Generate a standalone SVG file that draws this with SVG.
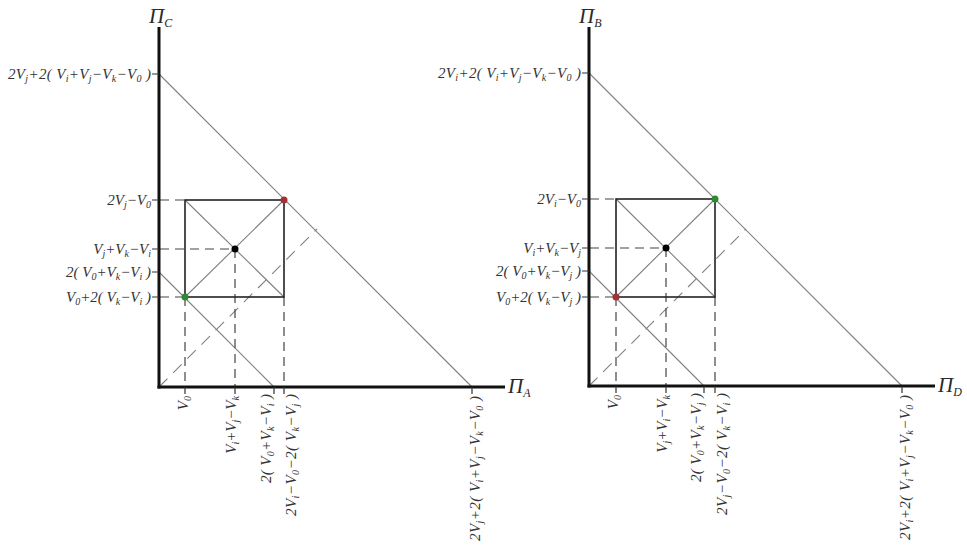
<svg xmlns="http://www.w3.org/2000/svg" width="967" height="550" viewBox="0 0 967 550">
<style>
.ax{stroke:#111;stroke-width:3;fill:none}
.dg{stroke:#808080;stroke-width:1.1;fill:none}
.sq{stroke:#222;stroke-width:1.6;fill:none}
.da{stroke:#444;stroke-width:1.2;stroke-dasharray:9 6;fill:none}
.dd{stroke:#808080;stroke-width:1.1;stroke-dasharray:12 8;fill:none}
.tk{stroke:#333;stroke-width:1.2}
.t{font-family:"Liberation Serif",serif;font-style:italic;font-size:15px;fill:#333;white-space:pre}
.s{font-size:10px}
.pi{font-family:"Liberation Serif",serif;font-style:italic;font-size:21px;fill:#2a2a2a}
.ps{font-size:12px}
</style>
<rect width="967" height="550" fill="#fff"/>

<g id="chart-left">
  <g id="left-lines">
    <line class="dg" x1="159" y1="74" x2="472" y2="387"/>
    <line class="dg" x1="159" y1="272" x2="274" y2="387"/>
    <line class="dg" x1="185" y1="200" x2="284" y2="297"/>
    <line class="dg" x1="185" y1="297" x2="284" y2="200"/>
    <line class="dd" x1="159" y1="387" x2="317" y2="229"/>
    <line class="da" x1="160" y1="200" x2="185" y2="200"/>
    <line class="da" x1="160" y1="249" x2="235" y2="249"/>
    <line class="da" x1="160" y1="297" x2="185" y2="297"/>
    <line class="da" x1="185" y1="297" x2="185" y2="387"/>
    <line class="da" x1="235" y1="249" x2="235" y2="387"/>
    <line class="da" x1="284" y1="297" x2="284" y2="387"/>
    <rect class="sq" x="185" y="200" width="99" height="97"/>
    <line class="ax" x1="159" y1="27" x2="159" y2="388.5"/>
    <line class="ax" x1="157.5" y1="387" x2="505" y2="387"/>
    <path class="tk" d="M152 74H159M152 200H159M152 249H159M152 272H159M152 297H159M185 387V394M235 387V394M274 387V394M284 387V394M472 387V394"/>
  </g>
  <g id="left-points">
    <circle cx="284" cy="200" r="3.5" fill="#a03434"/>
    <circle cx="235" cy="249" r="3.5" fill="#000"/>
    <circle cx="185" cy="297" r="3.5" fill="#2e8a2e"/>
  </g>
  <g id="left-labels">
    <text class="pi" x="149" y="23">Π<tspan class="ps" dy="4">C</tspan></text>
    <text class="pi" x="508" y="393">Π<tspan class="ps" dy="4">A</tspan></text>
    <text class="t" text-anchor="end" x="151" y="79" textLength="143">2V<tspan class="s" dy="3">j</tspan><tspan dy="-3">+2( V</tspan><tspan class="s" dy="3">i</tspan><tspan dy="-3">+V</tspan><tspan class="s" dy="3">j</tspan><tspan dy="-3">−V</tspan><tspan class="s" dy="3">k</tspan><tspan dy="-3">−V</tspan><tspan class="s" dy="3">0</tspan><tspan dy="-3"> )</tspan></text>
    <text class="t" text-anchor="end" x="151" y="205">2V<tspan class="s" dy="3">j</tspan><tspan dy="-3">−V</tspan><tspan class="s" dy="3">0</tspan></text>
    <text class="t" text-anchor="end" x="151" y="254">V<tspan class="s" dy="3">j</tspan><tspan dy="-3">+V</tspan><tspan class="s" dy="3">k</tspan><tspan dy="-3">−V</tspan><tspan class="s" dy="3">i</tspan></text>
    <text class="t" text-anchor="end" x="151" y="277">2( V<tspan class="s" dy="3">0</tspan><tspan dy="-3">+V</tspan><tspan class="s" dy="3">k</tspan><tspan dy="-3">−V</tspan><tspan class="s" dy="3">i</tspan><tspan dy="-3"> )</tspan></text>
    <text class="t" text-anchor="end" x="151" y="302">V<tspan class="s" dy="3">0</tspan><tspan dy="-3">+2( V</tspan><tspan class="s" dy="3">k</tspan><tspan dy="-3">−V</tspan><tspan class="s" dy="3">i</tspan><tspan dy="-3"> )</tspan></text>
    <text class="t" text-anchor="end" transform="translate(185 396) rotate(-90)" y="3">V<tspan class="s" dy="3">0</tspan></text>
    <text class="t" text-anchor="end" transform="translate(235 396) rotate(-90)" y="1">V<tspan class="s" dy="3">i</tspan><tspan dy="-3">+V</tspan><tspan class="s" dy="3">j</tspan><tspan dy="-3">−V</tspan><tspan class="s" dy="3">k</tspan></text>
    <text class="t" text-anchor="end" transform="translate(273 394) rotate(-90)" y="-2" textLength="89">2( V<tspan class="s" dy="3">0</tspan><tspan dy="-3">+V</tspan><tspan class="s" dy="3">k</tspan><tspan dy="-3">−V</tspan><tspan class="s" dy="3">i</tspan><tspan dy="-3"> )</tspan></text>
    <text class="t" text-anchor="end" transform="translate(284 394) rotate(-90)" y="12" textLength="122">2V<tspan class="s" dy="3">i</tspan><tspan dy="-3">−V</tspan><tspan class="s" dy="3">0</tspan><tspan dy="-3">−2( V</tspan><tspan class="s" dy="3">k</tspan><tspan dy="-3">−V</tspan><tspan class="s" dy="3">j</tspan><tspan dy="-3"> )</tspan></text>
    <text class="t" text-anchor="end" transform="translate(472 396) rotate(-90)" y="8" textLength="145">2V<tspan class="s" dy="3">j</tspan><tspan dy="-3">+2( V</tspan><tspan class="s" dy="3">i</tspan><tspan dy="-3">+V</tspan><tspan class="s" dy="3">j</tspan><tspan dy="-3">−V</tspan><tspan class="s" dy="3">k</tspan><tspan dy="-3">−V</tspan><tspan class="s" dy="3">0</tspan><tspan dy="-3"> )</tspan></text>
  </g>
</g>

<g id="chart-right">
  <g id="right-lines">
    <line class="dg" x1="589" y1="73" x2="902" y2="386"/>
    <line class="dg" x1="589" y1="271" x2="704" y2="386"/>
    <line class="dg" x1="616" y1="199" x2="715" y2="297"/>
    <line class="dg" x1="616" y1="297" x2="715" y2="199"/>
    <line class="dd" x1="589" y1="386" x2="746" y2="229"/>
    <line class="da" x1="590" y1="199" x2="616" y2="199"/>
    <line class="da" x1="590" y1="248" x2="666" y2="248"/>
    <line class="da" x1="590" y1="297" x2="616" y2="297"/>
    <line class="da" x1="616" y1="297" x2="616" y2="386"/>
    <line class="da" x1="666" y1="248" x2="666" y2="386"/>
    <line class="da" x1="715" y1="297" x2="715" y2="386"/>
    <rect class="sq" x="616" y="199" width="99" height="98"/>
    <line class="ax" x1="589" y1="27" x2="589" y2="387.5"/>
    <line class="ax" x1="587.5" y1="386" x2="935" y2="386"/>
    <path class="tk" d="M582 73H589M582 199H589M582 248H589M582 271H589M582 297H589M616 386V393M666 386V393M704 386V393M715 386V393M902 386V393"/>
  </g>
  <g id="right-points">
    <circle cx="715" cy="199" r="3.5" fill="#2e8a2e"/>
    <circle cx="666" cy="248" r="3.5" fill="#000"/>
    <circle cx="616" cy="297" r="3.5" fill="#a03434"/>
  </g>
  <g id="right-labels">
    <text class="pi" x="579" y="23">Π<tspan class="ps" dy="4">B</tspan></text>
    <text class="pi" x="938" y="392">Π<tspan class="ps" dy="4">D</tspan></text>
    <text class="t" text-anchor="end" x="581" y="78" textLength="143">2V<tspan class="s" dy="3">i</tspan><tspan dy="-3">+2( V</tspan><tspan class="s" dy="3">i</tspan><tspan dy="-3">+V</tspan><tspan class="s" dy="3">j</tspan><tspan dy="-3">−V</tspan><tspan class="s" dy="3">k</tspan><tspan dy="-3">−V</tspan><tspan class="s" dy="3">0</tspan><tspan dy="-3"> )</tspan></text>
    <text class="t" text-anchor="end" x="581" y="204">2V<tspan class="s" dy="3">i</tspan><tspan dy="-3">−V</tspan><tspan class="s" dy="3">0</tspan></text>
    <text class="t" text-anchor="end" x="581" y="253">V<tspan class="s" dy="3">i</tspan><tspan dy="-3">+V</tspan><tspan class="s" dy="3">k</tspan><tspan dy="-3">−V</tspan><tspan class="s" dy="3">j</tspan></text>
    <text class="t" text-anchor="end" x="581" y="276">2( V<tspan class="s" dy="3">0</tspan><tspan dy="-3">+V</tspan><tspan class="s" dy="3">k</tspan><tspan dy="-3">−V</tspan><tspan class="s" dy="3">j</tspan><tspan dy="-3"> )</tspan></text>
    <text class="t" text-anchor="end" x="581" y="302">V<tspan class="s" dy="3">0</tspan><tspan dy="-3">+2( V</tspan><tspan class="s" dy="3">k</tspan><tspan dy="-3">−V</tspan><tspan class="s" dy="3">j</tspan><tspan dy="-3"> )</tspan></text>
    <text class="t" text-anchor="end" transform="translate(616 395) rotate(-90)" y="2">V<tspan class="s" dy="3">0</tspan></text>
    <text class="t" text-anchor="end" transform="translate(666 395) rotate(-90)" y="1">V<tspan class="s" dy="3">j</tspan><tspan dy="-3">+V</tspan><tspan class="s" dy="3">i</tspan><tspan dy="-3">−V</tspan><tspan class="s" dy="3">k</tspan></text>
    <text class="t" text-anchor="end" transform="translate(703 393) rotate(-90)" y="-2" textLength="89">2( V<tspan class="s" dy="3">0</tspan><tspan dy="-3">+V</tspan><tspan class="s" dy="3">k</tspan><tspan dy="-3">−V</tspan><tspan class="s" dy="3">j</tspan><tspan dy="-3"> )</tspan></text>
    <text class="t" text-anchor="end" transform="translate(715 393) rotate(-90)" y="12" textLength="122">2V<tspan class="s" dy="3">j</tspan><tspan dy="-3">−V</tspan><tspan class="s" dy="3">0</tspan><tspan dy="-3">−2( V</tspan><tspan class="s" dy="3">k</tspan><tspan dy="-3">−V</tspan><tspan class="s" dy="3">i</tspan><tspan dy="-3"> )</tspan></text>
    <text class="t" text-anchor="end" transform="translate(902 395) rotate(-90)" y="8" textLength="145">2V<tspan class="s" dy="3">i</tspan><tspan dy="-3">+2( V</tspan><tspan class="s" dy="3">i</tspan><tspan dy="-3">+V</tspan><tspan class="s" dy="3">j</tspan><tspan dy="-3">−V</tspan><tspan class="s" dy="3">k</tspan><tspan dy="-3">−V</tspan><tspan class="s" dy="3">0</tspan><tspan dy="-3"> )</tspan></text>
  </g>
</g>
</svg>
